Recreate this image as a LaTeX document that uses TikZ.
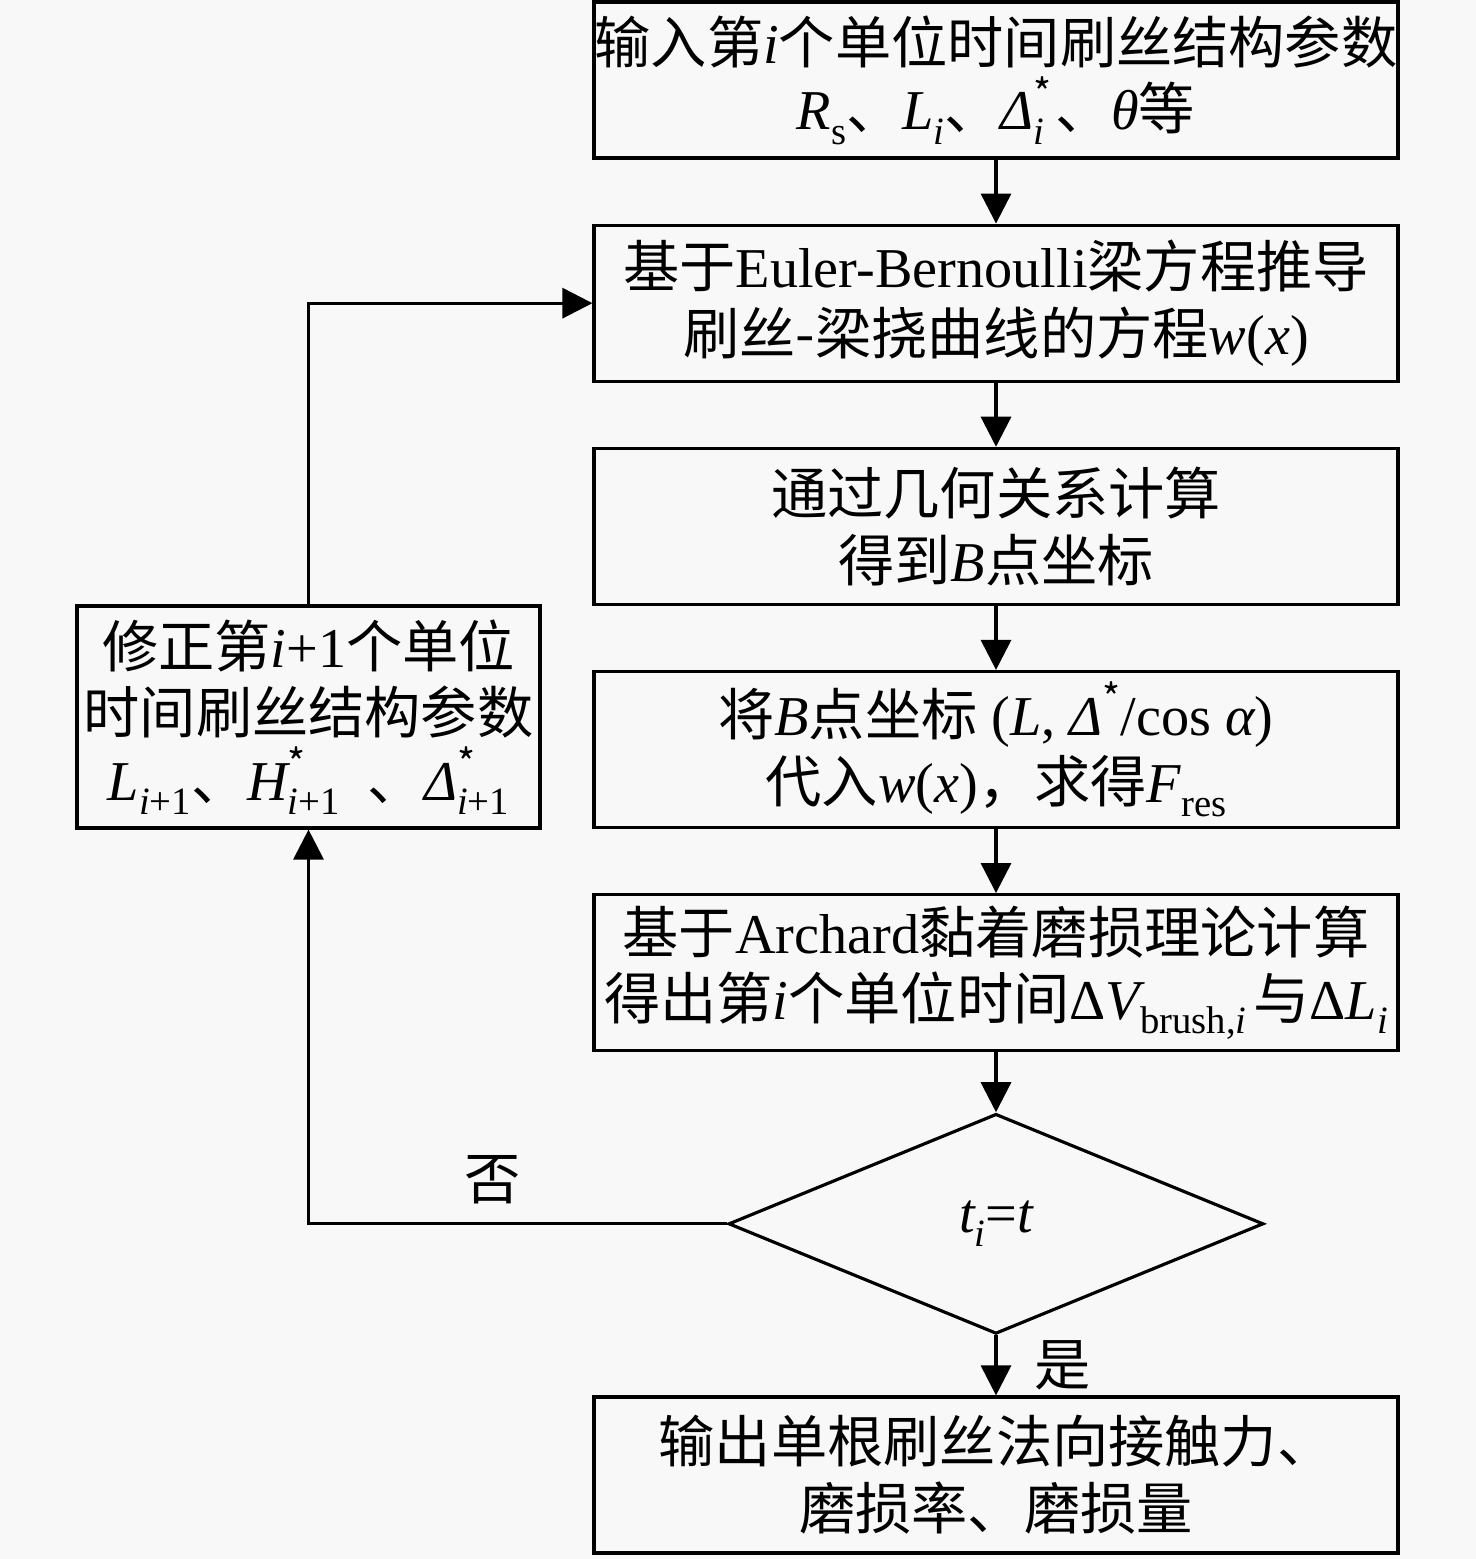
\documentclass[tikz,border=0pt]{standalone}
\usepackage{fontspec}
\setmainfont{Noto Sans CJK SC}
\newfontfamily\latinfont{Liberation Serif}
\usetikzlibrary{shapes, arrows.meta, positioning}
\definecolor{paper}{RGB}{248,248,248}
\newcommand{\lat}[1]{{\latinfont #1}}
\newcommand{\latit}[1]{{\latinfont\itshape #1}}
\newcommand{\subsz}{\fontsize{11}{12}\selectfont}
\newcommand{\lo}[1]{\raisebox{-4pt}{\subsz #1}}
\newcommand{\hi}[1]{\raisebox{6.5pt}{\subsz #1}}
\newcommand{\hilo}[2]{\rlap{\hi{#1}}\lo{#2}}

\begin{document}
\begin{tikzpicture}[node distance=0.64cm,
    block/.style={draw, rectangle, line width=0.9pt, minimum width=8.04cm, minimum height=1.56cm, inner sep=0pt, align=center, font=\fontsize{16}{19}\selectfont},
    choice/.style={draw, diamond, line width=0.9pt, aspect=2.43, minimum width=5.35cm, minimum height=2.2cm, inner sep=0pt, font=\fontsize{16}{19}\selectfont},
    arr/.style={-{Triangle[length=0.3cm, width=0.3cm]}, line width=0.9pt}]
        % Page
        \fill[paper] (0,0) rectangle (14.76,-15.59);
        \useasboundingbox (0,0) rectangle (14.76,-15.59);

        % Draw the blocks
        \node (input) [block] at (9.96,-0.80) {输入第\latit{i}个单位时间刷丝结构参数\\\latit{R}\lo{\lat{s}}、\latit{L}\lo{\latit{i}}、\latit{Δ}\hilo{*}{\latit{i}}\hspace{3pt}、\latit{θ}等};
        \node (beam)  [block, below=of input] {基于\lat{Euler-Bernoulli}梁方程推导\\刷丝-梁挠曲线的方程\latit{w}\lat{(}\latit{x}\lat{)}};
        \node (geom)  [block, below=of beam] {通过几何关系计算\\得到\latit{B}点坐标};
        \node (force) [block, below=of geom] {将\latit{B}点坐标\lat{ (}\latit{L}\lat{, }\latit{Δ}\hi{*}\lat{/cos }\latit{α}\lat{)}\\代入\latit{w}\lat{(}\latit{x}\lat{)}，求得\latit{F}\lo{\lat{res}}};
        \node (wear)  [block, below=of force] {基于\lat{Archard}黏着磨损理论计算\\得出第\latit{i}个单位时间\lat{Δ}\latit{V}\lo{\lat{brush,}\latit{i}}\hspace{2pt}与\lat{Δ}\latit{L}\lo{\latit{i}}};
        \node (check) [choice, below=0.6cm of wear] {\latit{t}\lo{\latit{i}}\lat{=}\latit{t}};
        \node (output)[block, below=0.6cm of check] {输出单根刷丝法向接触力、\\磨损率、磨损量};
        \node (fix)   [block, minimum width=4.63cm, minimum height=2.22cm] at (3.085,-7.17) {修正第\latit{i}\lat{+1}个单位\\时间刷丝结构参数\\\latit{L}\lo{\latit{i}\lat{+1}}、\latit{H}\hilo{*}{\latit{i}\lat{+1}}\hspace{8pt}、\latit{Δ}\hilo{*}{\latit{i}\lat{+1}}};

        % Draw the connecting lines
        \draw [arr] (input) -- (beam);
        \draw [arr] (beam) -- (geom);
        \draw [arr] (geom) -- (force);
        \draw [arr] (force) -- (wear);
        \draw [arr] (wear) -- (check);
        \draw [arr] (check) -- node [right=0.25cm, font=\fontsize{16}{19}\selectfont] {是} (output);

        % Feedback loop
        \draw [arr] (check.west) -| node [pos=0.28, above=2pt, font=\fontsize{16}{19}\selectfont] {否} (fix.south);
        \draw [arr] (fix.north) |- (beam.west);
    \end{tikzpicture}
\end{document}
